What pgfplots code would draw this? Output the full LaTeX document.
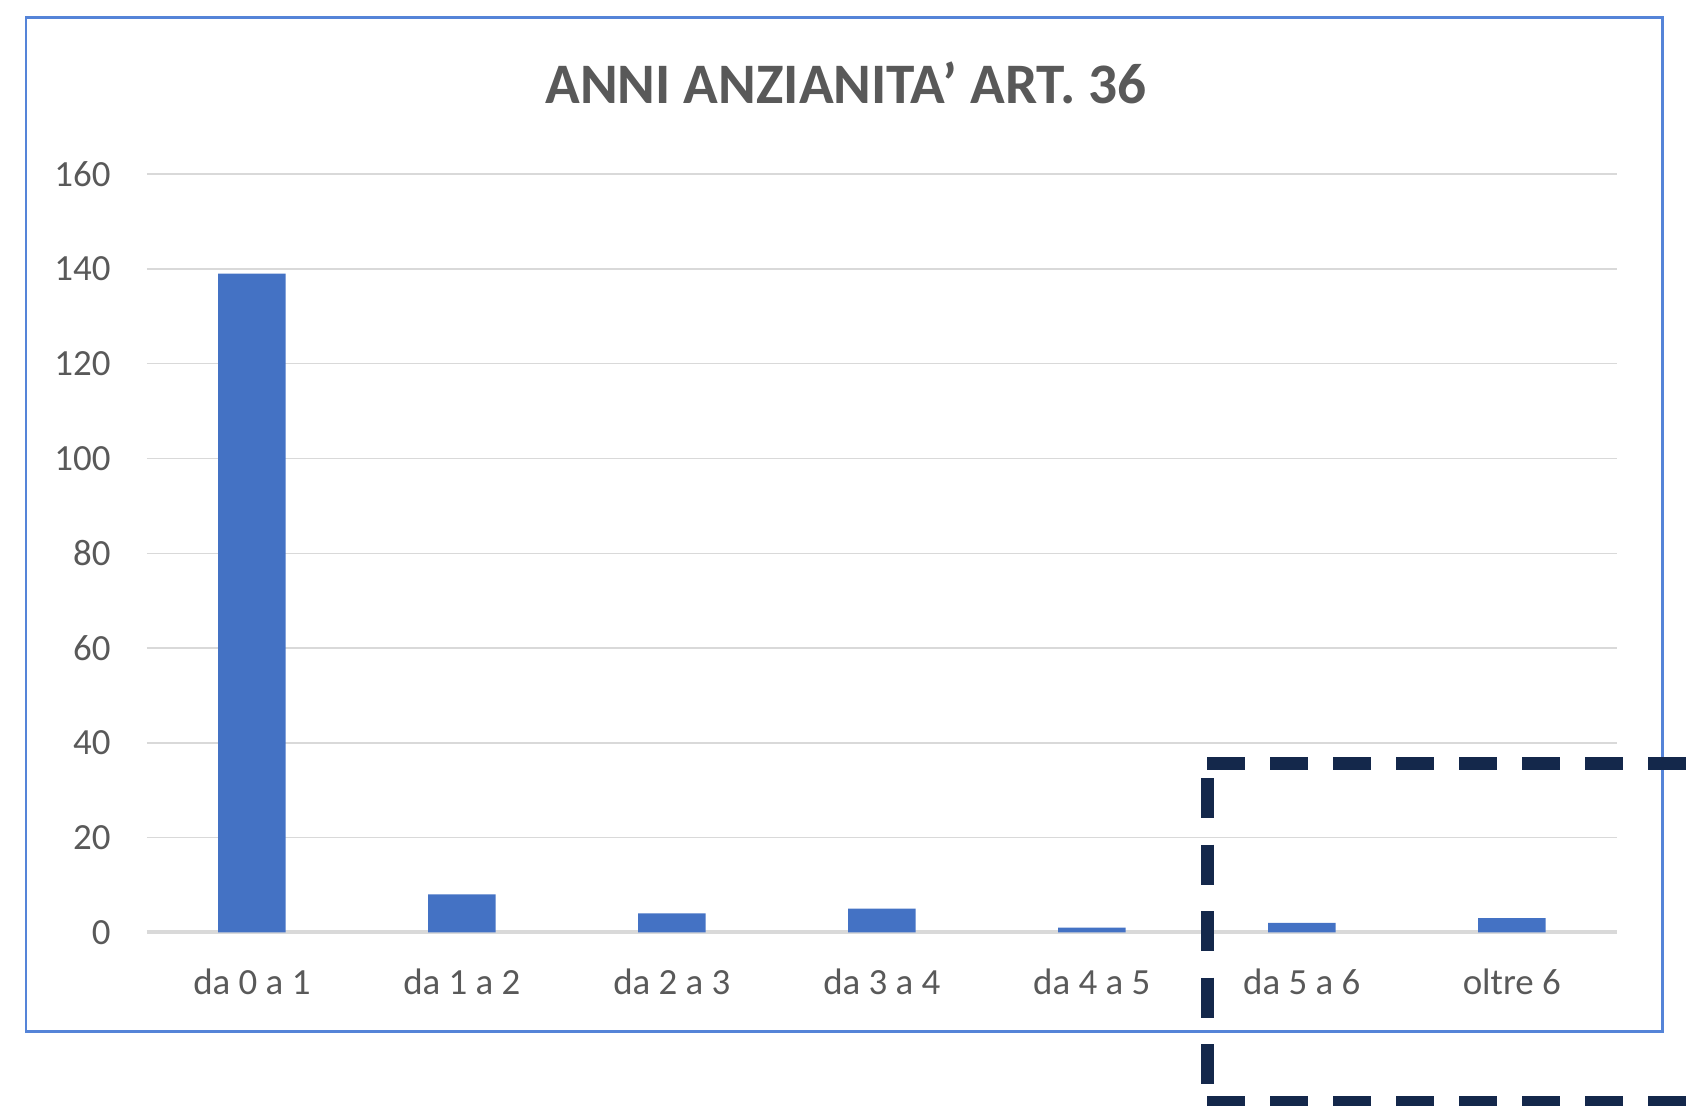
\documentclass[border=0pt]{standalone}
\usepackage{fontspec}
\setmainfont{Carlito}
\usepackage{pgfplots}
\pgfplotsset{compat=1.18}
\definecolor{Bar}{HTML}{4472C4}
\definecolor{Frame}{HTML}{5584D8}
\definecolor{Label}{HTML}{595959}
\definecolor{Grid}{HTML}{D9D9D9}
\definecolor{Navy}{HTML}{14284B}
\begin{document}
\begin{tikzpicture}
\useasboundingbox (0,0) rectangle (17.06cm,11.05cm);
\draw[Frame,line width=0.25mm] (0.261cm,0.736cm) rectangle (16.625cm,10.876cm);
\node[anchor=base,text=Label,font=\fontsize{16.3}{19}\selectfont\bfseries] at (8.46cm,10.01cm) {ANNI ANZIANITA’ ART. 36};
\begin{axis}[
  at={(1.469cm,1.726cm)},anchor=south west,
  scale only axis,width=14.699cm,height=7.583cm,
  xmin=-0.5,xmax=6.5,ymin=0,ymax=160,
  ytick={0,20,...,160},
  xtick={0,...,6},
  xticklabels={da 0 a 1,da 1 a 2,da 2 a 3,da 3 a 4,da 4 a 5,da 5 a 6,oltre 6},
  ymajorgrids,grid style={Grid,line width=0.4pt},
  axis x line*=bottom,axis y line*=left,
  x axis line style={Grid,line width=1.1pt},
  y axis line style={draw=none},
  major tick length=0pt,
  tick label style={font=\fontsize{10.5}{12}\selectfont,text=Label},
  /pgf/number format/assume math mode=true,
  yticklabel style={xshift=-2.4mm},
  xticklabel style={yshift=-2.45mm},
  clip=false,
]
\addplot[ybar,bar width=6.75mm,fill=Bar,draw=none] coordinates {(0,139) (1,8) (2,4) (3,5) (4,1) (5,2) (6,3)};
\end{axis}
\begin{scope}
\clip (0,0) rectangle (17.06cm,11.05cm);
\draw[Navy,line width=1.3mm,dash pattern=on 3.8mm off 2.5mm] (12.07cm,3.42cm) -- (18cm,3.42cm);
\draw[Navy,line width=1.3mm,dash pattern=on 3.8mm off 2.5mm] (12.07cm,0.03cm) -- (18cm,0.03cm);
\draw[Navy,line width=1.3mm,dash pattern=on 4mm off 2.65mm,dash phase=5.15mm] (12.07cm,3.42cm) -- (12.07cm,-0.5cm);
\end{scope}
\end{tikzpicture}
\end{document}
